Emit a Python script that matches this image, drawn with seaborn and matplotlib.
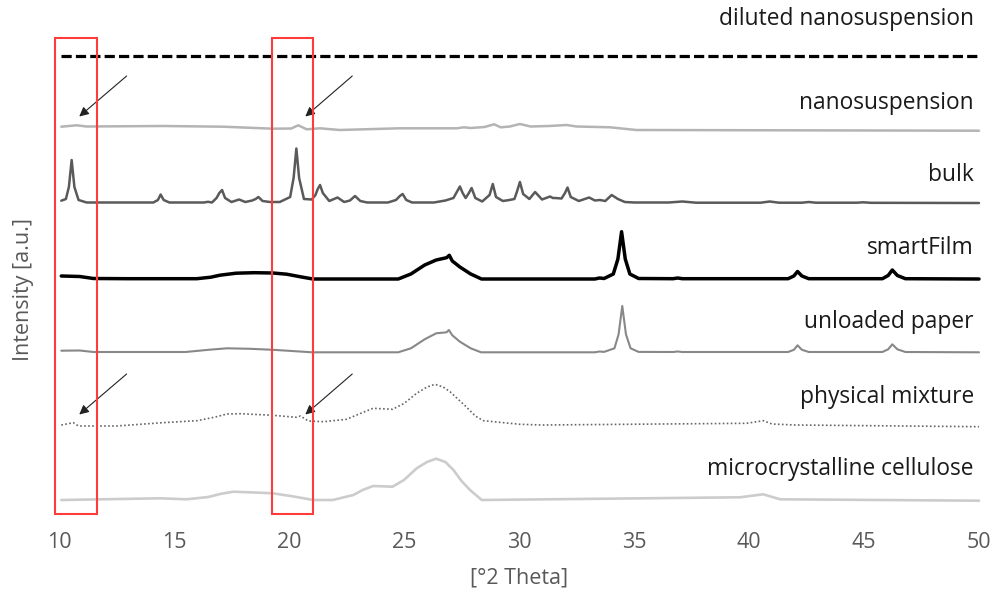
import numpy as np
import pandas as pd
import matplotlib
matplotlib.use("Agg")
import matplotlib.pyplot as plt
from matplotlib.patches import Rectangle
import seaborn as sns

# intensity (arbitrary units above each baseline)
dil_x = [10.1, 50.0]
dil_y = [0, 0]

nano_x = [10.1, 10.77, 11.2, 14.53, 17.14, 19.3, 20.1, 20.4, 20.77, 21.35, 22.2, 24.8,
          27.3, 27.6, 27.9, 28.5, 28.92, 29.2, 29.6, 30.04, 30.5, 31.3, 32.07, 32.5,
          33.96, 35.1, 50.0]
nano_y = [1.8, 3.2, 2.0, 2.5, 1.8, -0.2, 0.0, 3.2, -0.8, 0.2, -1.5, 0.2,
          0.2, 1.2, 0.5, 1.5, 4.2, 1.2, 2.0, 4.5, 2.0, 2.5, 3.5, 2.0,
          1.2, -1.5, -2.2]

bulk_x = [10.1, 10.3, 10.43, 10.55, 10.67, 10.85, 11.2, 14.1, 14.3, 14.42, 14.55, 14.8,
          16.3, 16.48, 16.65, 16.85, 16.97, 17.09, 17.22, 17.5, 17.83, 18.1, 18.4, 18.55,
          18.67, 18.85, 19.17, 19.6, 20.05, 20.2, 20.32, 20.44, 20.65, 20.99, 21.15, 21.25,
          21.35, 21.47, 21.75, 22.11, 22.4, 22.65, 22.87, 23.1, 23.4, 24.3, 24.65, 24.82,
          24.94, 25.1, 25.35, 26.3, 26.8, 27.15, 27.32, 27.43, 27.55, 27.68, 27.82, 27.94,
          28.1, 28.4, 28.72, 28.86, 29.0, 29.3, 29.58, 29.8, 29.92, 30.04, 30.18, 30.45,
          30.7, 31.0, 31.35, 31.47, 31.57, 31.85, 32.0, 32.11, 32.25, 32.6, 33.05, 33.3,
          33.52, 33.75, 34.03, 34.3, 34.6, 35.0, 36.5, 37.1, 37.7, 40.5, 40.9, 41.3,
          42.3, 42.6, 42.9, 44.7, 44.96, 45.3, 50.0]
bulk_y = [2.3, 4, 16, 43, 16, 3, 0.5, 0.5, 3, 8.5, 3, 0.5,
          0.5, 1.2, 0.5, 5, 10, 13, 5, 1, 3.5, 1, 2.5, 4, 6, 2, 1, 1, 6, 25, 54.5, 25, 4,
          3.5, 8, 14, 18, 10, 2, 5.5, 1, 2.5, 7, 2, 0.5, 0.5, 3, 7, 9, 3, 0.5, 0.5, 2.5,
          5, 12, 16.5, 10, 5, 10, 15, 5, 1.5, 8, 19, 6, 2, 3, 4, 12, 21, 9, 4, 11, 3.5,
          6.5, 5, 5, 4.5, 10, 15.5, 6, 2, 5.5, 2.5, 3, 2, 8, 4, 1, 0.5, 0.5, 1.5, 0.3,
          0.3, 1.5, 0.3, 0.3, 1, 0.3, 0.3, 0.7, 0.2, 0]

film_x = [10.1, 10.9, 11.5, 13.0, 15.99, 16.6, 17.0, 17.7, 18.5, 19.3, 19.9, 20.5, 21.04,
          24.75, 25.3, 25.9, 26.4, 26.85, 26.97, 27.1, 27.43, 27.9, 28.37, 33.3, 33.5,
          33.7, 34.1, 34.3, 34.46, 34.62, 34.82, 35.2, 36.7, 36.9, 37.1, 41.7, 41.95,
          42.11, 42.3, 42.6, 45.8, 46.05, 46.23, 46.45, 46.8, 50.0]
film_y = [3, 2.5, 0.5, 0.3, 0.3, 1.8, 3.8, 5.8, 6.3, 6.0, 4.8, 2.2, 0, 0, 5,
          14, 19, 21.3, 23.7, 18, 12, 5, 0, 0, 1, 0.5, 5,
          20, 47.3, 20, 5, 0.5, 0.3, 1, 0.3, 0.3, 3, 7.5, 3,
          0.3, 0.3, 3.5, 9, 3.5, 0.3, 0]

paper_x = [10.1, 10.9, 11.5, 15.5, 16.5, 17.3, 18.3, 19.3, 21.0, 24.75, 25.3, 25.9,
           26.4, 26.85, 26.95, 27.1, 27.43, 27.9, 28.35, 33.3, 33.5, 33.7, 34.15, 34.33,
           34.49, 34.65, 34.85, 35.2, 36.7, 36.9, 37.1, 41.7, 41.95, 42.11, 42.3, 42.6,
           45.8, 46.05, 46.23, 46.45, 46.8, 50.0]
paper_y = [1.6, 1.8, 0.3, 0.3, 2.5, 4, 3.5, 2.5, 0, 0, 4, 13, 19, 20,
           22.3, 17, 10.6, 4, 0, 0, 0.8, 0.4, 4,
           18, 46.3, 18, 4, 0.4, 0.3, 0.8, 0.3, 0.3, 2.5, 7, 2.5,
           0.3, 0.3, 3, 8, 3, 0.3, 0]

mix_x = [10.1, 10.62, 10.85, 12.5, 14.5, 16.0, 16.8, 17.3, 17.9, 19.3, 20.33, 20.5,
         20.84, 21.5, 22.5, 23.1, 23.65, 24.5, 25.0, 25.55, 26.0, 26.35, 26.7, 27.0,
         27.7, 28.1, 28.45, 30.04, 31.0, 39.9, 40.62, 41.0, 42.0, 50.0]
mix_y = [0.5, 2.8, -0.5, -0.5, 2.8, 4.8, 8.5, 11.5, 11.8, 10.2, 8.2, 9.5,
         4.5, 3.8, 6.2, 12, 17.2, 16.2, 22, 32.2, 38.5, 41.2, 38.5, 33.8,
         18.8, 9.5, 4.8, 1.2, 0.5, 2.2, 4.8, 1.5, 0.5, -1.2]

mcc_x = [10.1, 14.4, 15.55, 16.5, 17.0, 17.58, 18.5, 19.3, 20.2, 21.06, 21.9, 22.8,
         23.2, 23.66, 24.5, 25.0, 25.55, 26.0, 26.4, 26.8, 27.15, 27.5, 27.87, 28.38,
         39.6, 40.62, 41.35, 50.0]
mcc_y = [0, 1.7, 0.7, 3, 6, 8.3, 7.5, 6.7, 3.5, 0, 0, 5,
         10, 14, 13.3, 20, 31.7, 38, 41.3, 38, 30, 19, 10, 0,
         2.7, 5.7, 0.7, -0.7]

names = ["diluted nanosuspension", "nanosuspension", "bulk", "smartFilm",
         "unloaded paper", "physical mixture", "microcrystalline cellulose"]
offsets = [464.3, 391.5, 317, 241, 167.7, 94.5, 20]

sns.set_style("white")
plt.rcParams["font.family"] = ["Open Sans", "DejaVu Sans"]

fig = plt.figure(figsize=(9.95, 5.97), dpi=100)
ax = fig.add_axes([0.04774, 0.12898, 0.94774, 0.85427])

traces = [(dil_x, dil_y), (nano_x, nano_y), (bulk_x, bulk_y), (film_x, film_y),
          (paper_x, paper_y), (mix_x, mix_y), (mcc_x, mcc_y)]
styles = [
    dict(color="black", lw=2.3, linestyle=(0, (3.2, 1.3))),
    dict(color="#b4b4b4", lw=1.8, linestyle="-"),
    dict(color="#5a5a5a", lw=1.8, linestyle="-"),
    dict(color="black", lw=2.5, linestyle="-"),
    dict(color="#888888", lw=1.5, linestyle="-"),
    dict(color="#666666", lw=1.2, linestyle=(0, (1, 1.4))),
    dict(color="#cccccc", lw=1.9, linestyle="-"),
]
label_y = [495, 411, 339.3, 265.7, 191.7, 116.7, 45]

for (xs, ys), name, off, st, ly in zip(traces, names, offsets, styles, label_y):
    df = pd.DataFrame({"theta": xs, "intensity": np.array(ys) + off})
    sns.lineplot(data=df, x="theta", y="intensity", ax=ax, sort=False,
                 estimator=None, **st)
    ax.text(49.78, ly, name, ha="right", va="baseline", fontsize=16.4,
            color="#1a1a1a")

# red boxes around 10.5 and 20.3 degrees
for x0, x1 in [(9.81, 11.64), (19.25, 21.06)]:
    ax.add_patch(Rectangle((x0, 6), x1 - x0, 476, fill=False, edgecolor="#ff3b3b",
                           lw=1.5, zorder=10, clip_on=False))

for ty in [444, 146]:
    for tx, hx in [(12.94, 10.88), (22.75, 20.71)]:
        ax.annotate("", xy=(hx, ty - 40.5), xytext=(tx, ty),
                    arrowprops=dict(arrowstyle="-|>", color="#222222", lw=0.8,
                                    mutation_scale=14, shrinkA=0, shrinkB=0))

ax.set_xlim(9.5, 50.5)
ax.set_ylim(0, 510)
ax.set_xticks([10, 15, 20, 25, 30, 35, 40, 45, 50])
ax.set_yticks([])
ax.tick_params(axis="x", length=0, pad=9, labelsize=15.5, labelcolor="#595959")
ax.set_xlabel("[°2 Theta]", fontsize=15.5, color="#595959")
ax.set_ylabel("Intensity [a.u.]", fontsize=15.5, color="#595959")
ax.xaxis.set_label_coords(0.5, -0.093)
ax.yaxis.set_label_coords(-0.014, 0.451)
sns.despine(ax=ax, left=True, bottom=True)

fig.savefig("out.png", dpi=100)
